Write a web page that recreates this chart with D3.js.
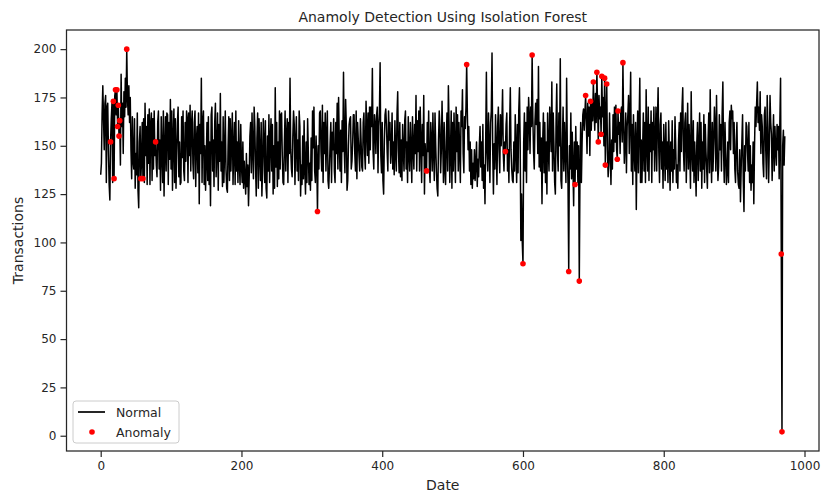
<!DOCTYPE html>
<html>
<head>
<meta charset="utf-8">
<script src="https://cdn.jsdelivr.net/npm/d3@7"></script>
<style>
  body { margin: 0; background: #fff; }
  text { font-family: "DejaVu Sans", sans-serif; fill: #262626; }
</style>
</head>
<body>
<div id="grafico"></div>
<script>
// Transações por dia (índice = Date)
const transactions = [
  135, 141, 167, 181, 164, 148, 172, 176, 131, 170,
  172, 147, 130, 122, 152, 164, 172, 131, 173, 133,
  176, 179, 166, 179, 160, 171, 155, 163, 140, 187,
  160, 172, 146, 178, 165, 185, 170, 200, 175, 166,
  181, 162, 175, 148, 133, 165, 142, 138, 164, 128,
  146, 135, 167, 127, 118, 152, 160, 133, 142, 162,
  133, 164, 131, 172, 145, 160, 130, 166, 141, 169,
  130, 161, 167, 132, 164, 138, 168, 145, 152, 140,
  134, 162, 168, 138, 153, 127, 165, 146, 131, 168,
  124, 148, 165, 137, 167, 166, 130, 162, 143, 174,
  138, 168, 127, 153, 169, 131, 164, 128, 146, 162,
  170, 134, 152, 130, 131, 165, 144, 168, 137, 132,
  162, 142, 168, 164, 131, 167, 145, 171, 137, 161,
  168, 141, 133, 162, 168, 129, 153, 160, 136, 167,
  120, 161, 146, 185, 131, 162, 168, 130, 150, 127,
  143, 162, 132, 165, 130, 152, 119, 166, 170, 137,
  153, 129, 162, 172, 134, 148, 167, 127, 161, 142,
  177, 137, 152, 129, 165, 131, 146, 168, 138, 128,
  126, 150, 165, 132, 164, 137, 153, 167, 130, 148,
  162, 130, 168, 137, 152, 131, 163, 141, 130, 161,
  140, 131, 152, 128, 142, 133, 125, 146, 129, 140,
  119, 134, 155, 162, 136, 167, 148, 133, 170, 160,
  139, 124, 154, 167, 128, 164, 145, 132, 162, 124,
  138, 164, 152, 131, 163, 128, 123, 155, 137, 166,
  131, 153, 164, 137, 161, 125, 150, 128, 180, 139,
  162, 129, 152, 133, 168, 138, 166, 167, 145, 131,
  130, 152, 168, 137, 155, 164, 131, 162, 146, 185,
  148, 138, 134, 155, 168, 161, 130, 152, 165, 137,
  153, 132, 168, 160, 124, 140, 130, 155, 133, 163,
  138, 125, 152, 131, 164, 147, 130, 141, 127, 154,
  132, 168, 149, 170, 137, 131, 155, 142, 116, 150,
  138, 167, 168, 147, 137, 171, 131, 162, 146, 167,
  137, 154, 168, 132, 128, 139, 152, 162, 131, 157,
  148, 164, 137, 131, 162, 146, 172, 138, 175, 152,
  137, 158, 131, 163, 147, 188, 149, 136, 174, 160,
  127, 132, 150, 161, 164, 165, 138, 142, 152, 166,
  166, 146, 137, 168, 133, 162, 153, 145, 137, 164,
  152, 139, 137, 162, 167, 146, 138, 173, 160, 145,
  167, 141, 170, 148, 170, 160, 190, 147, 138, 166,
  161, 146, 166, 170, 136, 160, 167, 193, 145, 136,
  162, 132, 125, 152, 166, 169, 161, 147, 137, 168,
  153, 162, 141, 148, 167, 138, 152, 135, 163, 147,
  137, 166, 178, 148, 136, 162, 134, 153, 132, 161,
  147, 137, 163, 168, 138, 152, 131, 165, 146, 137,
  162, 148, 131, 165, 149, 138, 161, 146, 176, 137,
  163, 147, 168, 137, 170, 152, 131, 161, 145, 176,
  125, 151, 140, 137, 162, 147, 168, 138, 131, 162,
  152, 137, 167, 147, 132, 167, 150, 137, 128, 124,
  153, 168, 160, 136, 148, 173, 152, 131, 162, 138,
  130, 152, 167, 137, 181, 160, 131, 147, 168, 128,
  162, 137, 167, 149, 131, 170, 147, 166, 137, 162,
  148, 131, 168, 160, 179, 146, 136, 165, 159, 170,
  192, 166, 148, 160, 137, 152, 130, 148, 128, 141,
  133, 148, 132, 141, 152, 129, 143, 134, 150, 160,
  139, 152, 132, 161, 128, 140, 120, 152, 188, 146,
  137, 167, 150, 131, 162, 168, 198, 147, 125, 151,
  138, 166, 149, 130, 160, 170, 148, 136, 166, 150,
  161, 179, 146, 137, 152, 147, 161, 167, 137, 148,
  131, 160, 180, 148, 138, 132, 131, 152, 137, 166,
  148, 131, 161, 136, 168, 180, 152, 101, 125, 100,
  89, 152, 167, 137, 162, 131, 170, 148, 175, 165,
  146, 170, 160, 197, 165, 147, 138, 162, 172, 161,
  174, 146, 191, 139, 162, 137, 154, 120, 152, 167,
  136, 162, 131, 152, 125, 167, 148, 137, 170, 160,
  147, 183, 137, 167, 150, 131, 125, 162, 182, 147,
  137, 167, 150, 195, 132, 128, 152, 170, 137, 162,
  147, 131, 185, 148, 130, 85, 150, 138, 167, 133,
  157, 138, 119, 152, 130, 160, 138, 152, 131, 150,
  80, 137, 162, 131, 152, 166, 169, 158, 167, 176,
  162, 146, 172, 155, 170, 145, 173, 158, 172, 163,
  183, 168, 158, 177, 162, 188, 170, 152, 176, 164,
  170, 156, 186, 165, 175, 150, 185, 140, 165, 182,
  148, 134, 141, 167, 146, 130, 153, 138, 166, 147,
  170, 152, 171, 148, 143, 168, 156, 162, 146, 168,
  170, 152, 193, 162, 141, 151, 167, 136, 160, 166,
  176, 146, 165, 188, 137, 161, 130, 166, 147, 137,
  162, 117, 152, 168, 136, 162, 185, 131, 153, 131,
  148, 167, 137, 162, 131, 179, 150, 137, 170, 132,
  161, 147, 168, 131, 162, 148, 170, 137, 152, 170,
  137, 162, 180, 147, 131, 161, 167, 138, 152, 128,
  161, 148, 132, 162, 138, 152, 131, 163, 146, 127,
  152, 137, 163, 131, 148, 138, 165, 150, 131, 140,
  128, 152, 162, 137, 167, 147, 170, 180, 148, 137,
  162, 167, 131, 150, 172, 138, 161, 147, 128, 178,
  148, 137, 163, 131, 152, 140, 124, 152, 162, 132,
  149, 167, 137, 162, 128, 152, 138, 166, 131, 161,
  147, 138, 128, 153, 167, 136, 179, 148, 131, 162,
  137, 152, 170, 160, 137, 176, 148, 132, 139, 166,
  148, 161, 137, 167, 183, 147, 131, 162, 146, 130,
  137, 152, 131, 162, 168, 148, 171, 164, 168, 146,
  162, 138, 131, 152, 162, 137, 130, 128, 148, 121,
  138, 152, 166, 132, 116, 150, 137, 162, 160, 147,
  137, 162, 131, 150, 127, 140, 131, 152, 120, 150,
  170, 160, 172, 183, 162, 170, 158, 178, 146, 166,
  160, 141, 134, 166, 170, 147, 133, 176, 158, 131,
  150, 176, 162, 156, 132, 150, 166, 137, 160, 148,
  140, 161, 148, 160, 133, 163, 185, 94, 2, 150,
  158, 140, 155
];

// Índices marcados como anomalia pelo Isolation Forest
const anomalyIdx = [14, 18, 19, 21, 23, 24, 25, 26, 27, 37, 57, 60, 78, 308, 463,
  520, 575, 600, 613, 665, 674, 680, 689, 696, 700, 705, 707, 711, 712, 716,
  717, 719, 734, 735, 742, 967, 968];

const xTicks = [0, 200, 400, 600, 800, 1000];
const yTicks = [0, 25, 50, 75, 100, 125, 150, 175, 200];

const W = 821, H = 494;
const plot = { left: 66.5, right: 819, top: 30, bottom: 451 };

const data = transactions.map((v, i) => ({ date: i, value: v }));
const anomalies = anomalyIdx.map(i => data[i]);

const svg = d3.select("#grafico")
  .append("svg")
    .attr("width", W)
    .attr("height", H);

svg.append("rect").attr("width", W).attr("height", H).attr("fill", "#fff");

// margens de 5% como no matplotlib
const xMax = data.length - 1;
const x = d3.scaleLinear()
  .domain([-0.05 * xMax, 1.05 * xMax])
  .range([plot.left, plot.right]);

const yMin = d3.min(transactions), yMax = d3.max(transactions);
const yPad = 0.05 * (yMax - yMin);
const y = d3.scaleLinear()
  .domain([yMin - yPad, yMax + yPad])
  .range([plot.bottom, plot.top]);

// Eixo X
const gx = svg.append("g")
  .attr("transform", "translate(0," + plot.bottom + ")")
  .call(d3.axisBottom(x).tickValues(xTicks).tickFormat(d3.format("d")).tickSize(6).tickPadding(4));
// Eixo Y
const gy = svg.append("g")
  .attr("transform", "translate(" + plot.left + ",0)")
  .call(d3.axisLeft(y).tickValues(yTicks).tickFormat(d3.format("d")).tickSize(6).tickPadding(4));

[gx, gy].forEach(g => {
  g.select(".domain").remove();
  g.selectAll(".tick line").attr("stroke", "#262626").attr("stroke-width", 1.2);
  g.selectAll(".tick text")
    .attr("font-size", "12px")
    .attr("font-family", "DejaVu Sans, sans-serif")
    .attr("fill", "#262626");
});

// linha
svg.append("clipPath").attr("id", "clip")
  .append("rect")
  .attr("x", plot.left).attr("y", plot.top)
  .attr("width", plot.right - plot.left).attr("height", plot.bottom - plot.top);

const line = d3.line()
  .x(d => x(d.date))
  .y(d => y(d.value));

svg.append("path")
  .datum(data)
  .attr("clip-path", "url(#clip)")
  .attr("fill", "none")
  .attr("stroke", "#000")
  .attr("stroke-width", 1.5)
  .attr("stroke-linejoin", "round")
  .attr("d", line);

// pontos de anomalia
svg.selectAll("circle.anom")
  .data(anomalies)
  .enter()
  .append("circle")
    .attr("class", "anom")
    .attr("cx", d => x(d.date))
    .attr("cy", d => y(d.value))
    .attr("r", 2.8)
    .attr("fill", "#ff0000");

// moldura
svg.append("rect")
  .attr("x", plot.left).attr("y", plot.top)
  .attr("width", plot.right - plot.left).attr("height", plot.bottom - plot.top)
  .attr("fill", "none")
  .attr("stroke", "#262626")
  .attr("stroke-width", 1.25);

// título e rótulos
svg.append("text")
  .attr("x", (plot.left + plot.right) / 2)
  .attr("y", 22)
  .attr("text-anchor", "middle")
  .attr("font-size", "14px")
  .text("Anamoly Detection Using Isolation Forest");

svg.append("text")
  .attr("x", (plot.left + plot.right) / 2)
  .attr("y", 490)
  .attr("text-anchor", "middle")
  .attr("font-size", "14px")
  .text("Date");

svg.append("text")
  .attr("transform", "rotate(-90)")
  .attr("x", -(plot.top + plot.bottom) / 2)
  .attr("y", 23)
  .attr("text-anchor", "middle")
  .attr("font-size", "14px")
  .text("Transactions");

// legenda
const leg = svg.append("g").attr("transform", "translate(73,401)");
leg.append("rect")
  .attr("width", 106).attr("height", 42)
  .attr("rx", 3)
  .attr("fill", "#fff").attr("fill-opacity", 0.8)
  .attr("stroke", "#cccccc").attr("stroke-width", 1);
leg.append("line")
  .attr("x1", 5).attr("x2", 32).attr("y1", 11).attr("y2", 11)
  .attr("stroke", "#262626").attr("stroke-width", 2);
leg.append("circle")
  .attr("cx", 19).attr("cy", 31).attr("r", 2.8).attr("fill", "#ff0000");
leg.append("text").attr("x", 43).attr("y", 15.5).attr("font-size", "12.5px").text("Normal");
leg.append("text").attr("x", 43).attr("y", 35.5).attr("font-size", "12.5px").text("Anomaly");
</script>
</body>
</html>
